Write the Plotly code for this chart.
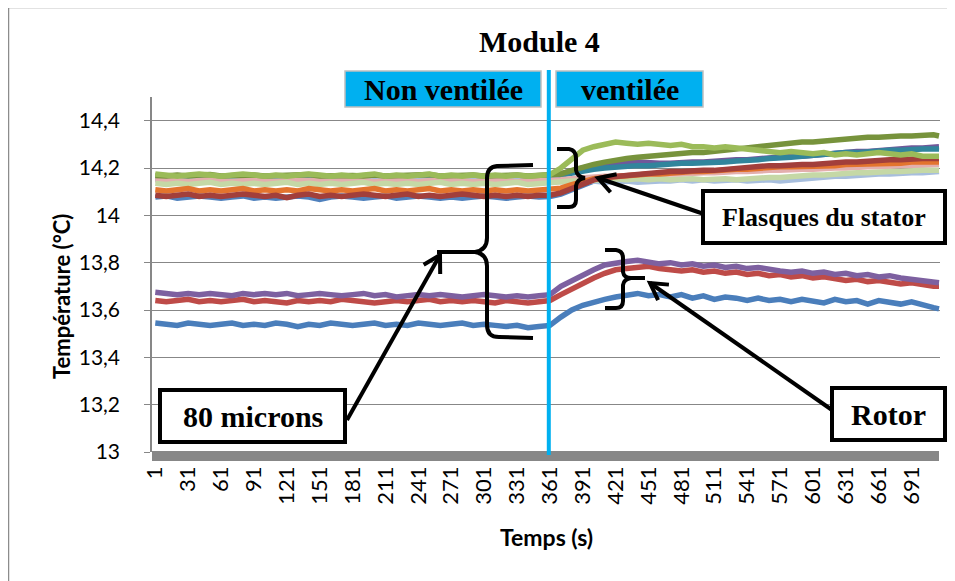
import math
import plotly.graph_objects as go

TIME = list(range(1, 712, 10)) + [716]
TICK_VALUES = [1, 31, 61, 91, 121, 151, 181, 211, 241, 271, 301, 331, 361,
               391, 421, 451, 481, 511, 541, 571, 601, 631, 661, 691]
TICK_LABELS = ["1", "31", "61", "91", "121", "151", "181", "211", "241", "271",
               "301", "331", "361", "391", "421", "451", "481", "511", "541",
               "571", "601", "631", "661", "691"]
Y_TICKS = [13.0, 13.2, 13.4, 13.6, 13.8, 14.0, 14.2, 14.4]
Y_LABELS = ["13", "13,2", "13,4", "13,6", "13,8", "14", "14,2", "14,4"]
VENTILATION_START = 360

# Flasques du stator
STATOR_BLUE = [
    14.077, 14.082, 14.072, 14.077, 14.082, 14.077, 14.072, 14.077, 14.082, 14.072,
    14.077, 14.072, 14.077, 14.082, 14.077, 14.067, 14.077, 14.082, 14.077, 14.072,
    14.077, 14.082, 14.072, 14.077, 14.082, 14.077, 14.072, 14.077, 14.072, 14.077,
    14.082, 14.077, 14.072, 14.077, 14.082, 14.077,
    14.080, 14.090, 14.110, 14.130, 14.145, 14.155, 14.160, 14.165, 14.170, 14.175,
    14.175, 14.180, 14.180, 14.185, 14.185, 14.185, 14.190, 14.190, 14.195, 14.200,
    14.205, 14.205, 14.210, 14.210, 14.210, 14.215, 14.215, 14.220, 14.220, 14.225,
    14.225, 14.230, 14.230, 14.235, 14.235, 14.235, 14.235]
STATOR_TEAL = [
    14.160, 14.155, 14.160, 14.155, 14.150, 14.160, 14.155, 14.160, 14.155, 14.150,
    14.155, 14.160, 14.155, 14.150, 14.155, 14.160, 14.155, 14.155, 14.150, 14.155,
    14.160, 14.155, 14.150, 14.155, 14.160, 14.155, 14.150, 14.155, 14.155, 14.160,
    14.155, 14.150, 14.155, 14.160, 14.155, 14.155,
    14.160, 14.170, 14.180, 14.190, 14.195, 14.200, 14.205, 14.205, 14.210, 14.210,
    14.215, 14.215, 14.220, 14.220, 14.220, 14.225, 14.225, 14.230, 14.230, 14.235,
    14.240, 14.240, 14.245, 14.250, 14.255, 14.255, 14.260, 14.265, 14.265, 14.270,
    14.270, 14.275, 14.275, 14.280, 14.280, 14.280, 14.280]
STATOR_PURPLE = [
    14.152, 14.157, 14.152, 14.147, 14.152, 14.157, 14.152, 14.147, 14.152, 14.157,
    14.152, 14.147, 14.152, 14.157, 14.152, 14.147, 14.152, 14.152, 14.157, 14.152,
    14.147, 14.152, 14.157, 14.152, 14.147, 14.152, 14.157, 14.152, 14.147, 14.152,
    14.157, 14.152, 14.147, 14.152, 14.157, 14.152,
    14.160, 14.175, 14.190, 14.200, 14.210, 14.215, 14.225, 14.225, 14.225, 14.220,
    14.220, 14.220, 14.225, 14.225, 14.225, 14.230, 14.230, 14.235, 14.235, 14.240,
    14.240, 14.245, 14.250, 14.250, 14.255, 14.260, 14.260, 14.265, 14.270, 14.270,
    14.275, 14.280, 14.280, 14.285, 14.285, 14.290, 14.290]
STATOR_LIGHT_BLUE = [
    14.152, 14.147, 14.152, 14.157, 14.147, 14.152, 14.147, 14.152, 14.157, 14.152,
    14.147, 14.152, 14.157, 14.152, 14.147, 14.152, 14.147, 14.152, 14.157, 14.147,
    14.152, 14.147, 14.152, 14.157, 14.152, 14.147, 14.152, 14.147, 14.152, 14.157,
    14.147, 14.152, 14.147, 14.152, 14.147, 14.152,
    14.145, 14.140, 14.140, 14.140, 14.145, 14.140, 14.145, 14.145, 14.140, 14.145,
    14.145, 14.145, 14.150, 14.145, 14.150, 14.145, 14.150, 14.150, 14.145, 14.150,
    14.150, 14.145, 14.150, 14.155, 14.155, 14.160, 14.165, 14.165, 14.170, 14.170,
    14.175, 14.175, 14.180, 14.180, 14.180, 14.185, 14.185]
STATOR_PINK = [
    14.147, 14.152, 14.147, 14.142, 14.147, 14.152, 14.147, 14.142, 14.147, 14.152,
    14.147, 14.142, 14.147, 14.147, 14.152, 14.147, 14.142, 14.147, 14.152, 14.147,
    14.142, 14.147, 14.152, 14.147, 14.142, 14.147, 14.147, 14.152, 14.147, 14.142,
    14.147, 14.152, 14.147, 14.142, 14.147, 14.147,
    14.148, 14.150, 14.155, 14.160, 14.160, 14.165, 14.165, 14.170, 14.170, 14.170,
    14.175, 14.175, 14.175, 14.180, 14.180, 14.180, 14.185, 14.185, 14.185, 14.190,
    14.190, 14.190, 14.195, 14.195, 14.195, 14.200, 14.200, 14.200, 14.205, 14.205,
    14.205, 14.210, 14.210, 14.210, 14.210, 14.215, 14.215]
STATOR_PALE_GREEN = [
    14.135, 14.130, 14.135, 14.130, 14.135, 14.140, 14.130, 14.135, 14.130, 14.135,
    14.130, 14.135, 14.140, 14.130, 14.135, 14.130, 14.135, 14.130, 14.135, 14.140,
    14.130, 14.135, 14.130, 14.135, 14.130, 14.135, 14.140, 14.130, 14.135, 14.130,
    14.135, 14.130, 14.135, 14.140, 14.130, 14.135,
    14.135, 14.140, 14.145, 14.145, 14.150, 14.150, 14.155, 14.150, 14.155, 14.150,
    14.155, 14.150, 14.155, 14.155, 14.150, 14.155, 14.155, 14.150, 14.155, 14.160,
    14.160, 14.160, 14.165, 14.165, 14.170, 14.170, 14.175, 14.175, 14.180, 14.180,
    14.185, 14.185, 14.185, 14.190, 14.190, 14.190, 14.190]
STATOR_ORANGE = [
    14.108, 14.103, 14.108, 14.113, 14.103, 14.108, 14.103, 14.108, 14.113, 14.103,
    14.108, 14.103, 14.108, 14.103, 14.113, 14.108, 14.103, 14.108, 14.103, 14.108,
    14.113, 14.103, 14.108, 14.103, 14.108, 14.113, 14.103, 14.108, 14.103, 14.108,
    14.103, 14.108, 14.103, 14.108, 14.103, 14.108,
    14.108, 14.115, 14.130, 14.145, 14.155, 14.160, 14.165, 14.170, 14.170, 14.175,
    14.175, 14.180, 14.180, 14.185, 14.185, 14.190, 14.190, 14.195, 14.195, 14.200,
    14.200, 14.205, 14.205, 14.205, 14.210, 14.210, 14.210, 14.215, 14.215, 14.215,
    14.220, 14.220, 14.220, 14.225, 14.225, 14.225, 14.225]
STATOR_DARK_RED = [
    14.085, 14.080, 14.085, 14.090, 14.080, 14.085, 14.080, 14.085, 14.090, 14.085,
    14.080, 14.085, 14.075, 14.085, 14.090, 14.080, 14.085, 14.080, 14.085, 14.090,
    14.085, 14.080, 14.085, 14.090, 14.080, 14.085, 14.080, 14.085, 14.090, 14.085,
    14.080, 14.085, 14.080, 14.085, 14.080, 14.085,
    14.085, 14.095, 14.115, 14.135, 14.150, 14.160, 14.165, 14.170, 14.175, 14.180,
    14.180, 14.185, 14.185, 14.190, 14.190, 14.190, 14.195, 14.195, 14.200, 14.205,
    14.210, 14.210, 14.215, 14.215, 14.215, 14.220, 14.220, 14.225, 14.225, 14.230,
    14.230, 14.235, 14.235, 14.240, 14.240, 14.240, 14.240]
STATOR_DARK_GREEN = [
    14.168, 14.166, 14.170, 14.166, 14.170, 14.172, 14.166, 14.168, 14.166, 14.170,
    14.166, 14.168, 14.166, 14.170, 14.172, 14.166, 14.168, 14.166, 14.168, 14.166,
    14.170, 14.166, 14.168, 14.166, 14.170, 14.172, 14.166, 14.168, 14.166, 14.170,
    14.166, 14.168, 14.166, 14.170, 14.166, 14.168,
    14.168, 14.175, 14.190, 14.205, 14.215, 14.225, 14.235, 14.240, 14.245, 14.250,
    14.255, 14.255, 14.260, 14.265, 14.265, 14.270, 14.275, 14.280, 14.285, 14.295,
    14.300, 14.300, 14.305, 14.310, 14.310, 14.315, 14.320, 14.320, 14.325, 14.330,
    14.330, 14.335, 14.335, 14.335, 14.340, 14.340, 14.335]
STATOR_GREEN = [
    14.175, 14.170, 14.165, 14.170, 14.175, 14.170, 14.165, 14.170, 14.175, 14.170,
    14.165, 14.170, 14.165, 14.170, 14.175, 14.170, 14.165, 14.170, 14.165, 14.170,
    14.175, 14.165, 14.170, 14.165, 14.170, 14.175, 14.165, 14.170, 14.165, 14.170,
    14.165, 14.170, 14.165, 14.170, 14.165, 14.170,
    14.172, 14.200, 14.240, 14.275, 14.290, 14.300, 14.310, 14.305, 14.300, 14.305,
    14.300, 14.295, 14.300, 14.290, 14.290, 14.285, 14.290, 14.285, 14.280, 14.275,
    14.270, 14.265, 14.270, 14.265, 14.260, 14.265, 14.255, 14.260, 14.255, 14.260,
    14.265, 14.260, 14.255, 14.260, 14.250, 14.250, 14.250]

# Rotor
ROTOR_BLUE = [
    13.545, 13.540, 13.535, 13.545, 13.540, 13.535, 13.540, 13.545, 13.535, 13.540,
    13.535, 13.545, 13.540, 13.530, 13.540, 13.535, 13.545, 13.540, 13.535, 13.540,
    13.545, 13.535, 13.540, 13.535, 13.545, 13.540, 13.535, 13.540, 13.545, 13.535,
    13.540, 13.535, 13.530, 13.535, 13.525, 13.530,
    13.535, 13.570, 13.600, 13.620, 13.635, 13.645, 13.655, 13.665, 13.670, 13.660,
    13.665, 13.655, 13.665, 13.650, 13.660, 13.645, 13.655, 13.650, 13.640, 13.650,
    13.640, 13.645, 13.635, 13.645, 13.640, 13.630, 13.645, 13.635, 13.640, 13.625,
    13.640, 13.630, 13.625, 13.635, 13.620, 13.610, 13.605]
ROTOR_RED = [
    13.640, 13.635, 13.640, 13.645, 13.635, 13.640, 13.635, 13.640, 13.645, 13.635,
    13.640, 13.635, 13.630, 13.640, 13.635, 13.640, 13.635, 13.645, 13.640, 13.635,
    13.630, 13.635, 13.640, 13.635, 13.640, 13.645, 13.635, 13.640, 13.635, 13.640,
    13.635, 13.630, 13.640, 13.635, 13.630, 13.635,
    13.640, 13.665, 13.690, 13.715, 13.735, 13.755, 13.770, 13.775, 13.780, 13.785,
    13.775, 13.770, 13.765, 13.770, 13.760, 13.765, 13.755, 13.760, 13.750, 13.755,
    13.745, 13.750, 13.740, 13.745, 13.735, 13.740, 13.730, 13.725, 13.730, 13.720,
    13.725, 13.715, 13.710, 13.715, 13.705, 13.700, 13.700]
ROTOR_PURPLE = [
    13.675, 13.670, 13.665, 13.670, 13.665, 13.670, 13.665, 13.660, 13.670, 13.665,
    13.670, 13.665, 13.670, 13.660, 13.665, 13.670, 13.665, 13.660, 13.665, 13.670,
    13.660, 13.665, 13.655, 13.660, 13.665, 13.660, 13.665, 13.660, 13.655, 13.660,
    13.665, 13.660, 13.655, 13.660, 13.655, 13.660,
    13.665, 13.700, 13.725, 13.750, 13.770, 13.790, 13.800, 13.805, 13.810, 13.805,
    13.795, 13.800, 13.790, 13.795, 13.785, 13.790, 13.780, 13.785, 13.775, 13.780,
    13.770, 13.765, 13.760, 13.765, 13.755, 13.760, 13.750, 13.755, 13.745, 13.750,
    13.740, 13.745, 13.735, 13.730, 13.725, 13.720, 13.715]

SERIES = [
    ("Stator 1", STATOR_BLUE, "#4F81BD"),
    ("Stator 3", STATOR_PURPLE, "#71589A"),
    ("Stator 2", STATOR_TEAL, "#31859C"),
    ("Stator 4", STATOR_LIGHT_BLUE, "#A7BEDD"),
    ("Stator 5", STATOR_PINK, "#E3AFAE"),
    ("Stator 6", STATOR_PALE_GREEN, "#C5D8A6"),
    ("Stator 7", STATOR_ORANGE, "#E3742E"),
    ("Stator 8", STATOR_DARK_RED, "#A23F3B"),
    ("Stator 9", STATOR_DARK_GREEN, "#77933C"),
    ("Stator 10", STATOR_GREEN, "#9BBB59"),
    ("Rotor 1", ROTOR_BLUE, "#4A7EBB"),
    ("Rotor 2", ROTOR_RED, "#BE4B48"),
    ("Rotor 3", ROTOR_PURPLE, "#7D60A0"),
]
for _name, _vals, _c in SERIES:
    if len(_vals) != len(TIME):
        raise ValueError(f"{_name}: {len(_vals)} values vs {len(TIME)}")

# ---------------- layout helpers (reference-pixel -> paper) ----------------
W, H = 955, 581
OFF = 8                      # the page body adds an 8 px margin
PL, PR, PT, PB = 152, 940, 97, 452   # plot area, in screenshot pixels


def X(px):
    return (px - PL) / (PR - PL)


def Y(py):
    return (PB - py) / (PB - PT)


fig = go.Figure()
for name, vals, color in SERIES:
    fig.add_trace(go.Scatter(x=TIME, y=vals, mode="lines", name=name,
                             line=dict(color=color, width=5.5), showlegend=False))

shapes = []
annotations = []

# outer chart border
shapes.append(dict(type="rect", xref="paper", yref="paper",
                   x0=X(8.5), x1=X(975), y0=Y(7.5), y1=Y(600),
                   line=dict(color="#8C8C8C", width=1.5), layer="below"))
# thick grey base band
shapes.append(dict(type="rect", xref="paper", yref="paper",
                   x0=X(152), x1=X(939), y0=Y(451), y1=Y(461),
                   fillcolor="#878787", line=dict(width=0)))
# ventilation start line
shapes.append(dict(type="line", xref="x", yref="paper",
                   x0=VENTILATION_START, x1=VENTILATION_START, y0=Y(455), y1=Y(70),
                   line=dict(color="#00B0F0", width=4)))
# cyan header boxes
for (x0, x1, txt) in [(345, 541, "Non ventilée"), (556, 703, "ventilée")]:
    shapes.append(dict(type="rect", xref="paper", yref="paper",
                       x0=X(x0), x1=X(x1), y0=Y(71), y1=Y(107),
                       fillcolor="#00B0F0", line=dict(color="#BFBFBF", width=1.5)))
    annotations.append(dict(xref="paper", yref="paper", x=X((x0 + x1) / 2), y=Y(89),
                            text=f"<b>{txt}</b>", showarrow=False,
                            font=dict(family="Liberation Serif", size=30, color="black"),
                            xanchor="center", yanchor="middle"))

# callout boxes
for (x0, y0, x1, y1, txt, size) in [(703, 191, 945, 243, "Flasques du stator", 26),
                                    (160, 390, 345, 442, "80 microns", 30),
                                    (832, 388, 945, 440, "Rotor", 30)]:
    shapes.append(dict(type="rect", xref="paper", yref="paper",
                       x0=X(x0), x1=X(x1), y0=Y(y0), y1=Y(y1),
                       fillcolor="white", line=dict(color="black", width=4)))
    annotations.append(dict(xref="paper", yref="paper", x=X((x0 + x1) / 2), y=Y((y0 + y1) / 2),
                            text=f"<b>{txt}</b>", showarrow=False,
                            font=dict(family="Liberation Serif", size=size, color="black"),
                            xanchor="center", yanchor="middle"))


def path_px(cmds):
    out = []
    for c in cmds:
        if isinstance(c, str):
            out.append(c)
        else:
            out.append(f"{X(c[0]):.5f},{Y(c[1]):.5f}")
    return " ".join(out)


def arrow(x0, y0, x1, y1, size=19, ang=30):
    shapes.append(dict(type="line", xref="paper", yref="paper",
                       x0=X(x0), y0=Y(y0), x1=X(x1), y1=Y(y1),
                       line=dict(color="black", width=4)))
    d = math.hypot(x1 - x0, y1 - y0)
    ux, uy = (x1 - x0) / d, (y1 - y0) / d
    a = math.radians(ang)
    lx = x1 - size * (ux * math.cos(a) - uy * math.sin(a))
    ly = y1 - size * (uy * math.cos(a) + ux * math.sin(a))
    rx = x1 - size * (ux * math.cos(a) + uy * math.sin(a))
    ry = y1 - size * (uy * math.cos(a) - ux * math.sin(a))
    shapes.append(dict(type="path", xref="paper", yref="paper",
                       path=path_px(["M", (lx, ly), "L", (x1, y1), "L", (rx, ry)]),
                       line=dict(color="black", width=4)))


arrow(704, 214, 598, 178)
arrow(347, 420, 440, 255)
arrow(832, 410, 650, 283)

# braces
braces = [
    ["M", (533, 165), "L", (497, 166), "Q", (487, 167), (487, 178), "L", (487, 238),
     "Q", (487, 250), (475, 252), "L", (437, 252), "M", (475, 252), "Q", (487, 254), (487, 266),
     "L", (487, 325), "Q", (487, 337), (499, 337), "L", (533, 338)],
    ["M", (557, 149), "L", (569, 149), "Q", (576, 150), (576, 158), "L", (576, 170),
     "Q", (577, 177), (585, 178), "Q", (577, 179), (576, 186), "L", (576, 200),
     "Q", (576, 207), (569, 207), "L", (557, 207)],
    ["M", (605, 250), "L", (616, 250), "Q", (623, 251), (623, 258), "L", (623, 272),
     "Q", (624, 278), (631, 278), "L", (645, 278), "M", (631, 278), "Q", (624, 279), (623, 285),
     "L", (623, 301), "Q", (623, 308), (616, 308), "L", (605, 308)],
]
for b in braces:
    shapes.append(dict(type="path", xref="paper", yref="paper", path=path_px(b),
                       line=dict(color="black", width=4)))

# titles
annotations.append(dict(xref="paper", yref="paper", x=X(539), y=Y(42), text="<b>Module 4</b>",
                        showarrow=False, font=dict(family="Liberation Serif", size=30, color="black"),
                        xanchor="center", yanchor="middle"))
annotations.append(dict(xref="paper", yref="paper", x=X(61), y=Y(297), text="<b>Température (°C)</b>",
                        textangle=-90, showarrow=False,
                        font=dict(family="Lato", size=22, color="black"),
                        xanchor="center", yanchor="middle"))
annotations.append(dict(xref="paper", yref="paper", x=X(546), y=Y(537), text="<b>Temps (s)</b>",
                        showarrow=False, font=dict(family="Lato", size=23, color="black"),
                        xanchor="center", yanchor="middle"))

fig.update_layout(
    width=W, height=H,
    margin=dict(l=PL - OFF, r=W - (PR - OFF), t=PT - OFF, b=H - (PB - OFF), pad=0),
    paper_bgcolor="white", plot_bgcolor="white",
    separators=", ",
    shapes=shapes, annotations=annotations,
    showlegend=False,
    xaxis=dict(range=[-2.0, 716.9], tickmode="array", tickvals=TICK_VALUES, ticktext=TICK_LABELS,
               tickangle=-90, tickfont=dict(family="Lato", size=22, color="black"),
               showgrid=False, zeroline=False, showline=False, ticks="",
               ticklabelstandoff=9),
    yaxis=dict(range=[13, 14.5], tickmode="array", tickvals=Y_TICKS, ticktext=Y_LABELS,
               tickfont=dict(family="Lato", size=21, color="black"),
               showgrid=True, gridcolor="#878787", gridwidth=1.3,
               showline=True, linecolor="#878787", linewidth=1.5,
               ticks="outside", ticklen=6, tickcolor="#878787",
               zeroline=False, ticklabelstandoff=20),
)

fig.write_html("out.html")
